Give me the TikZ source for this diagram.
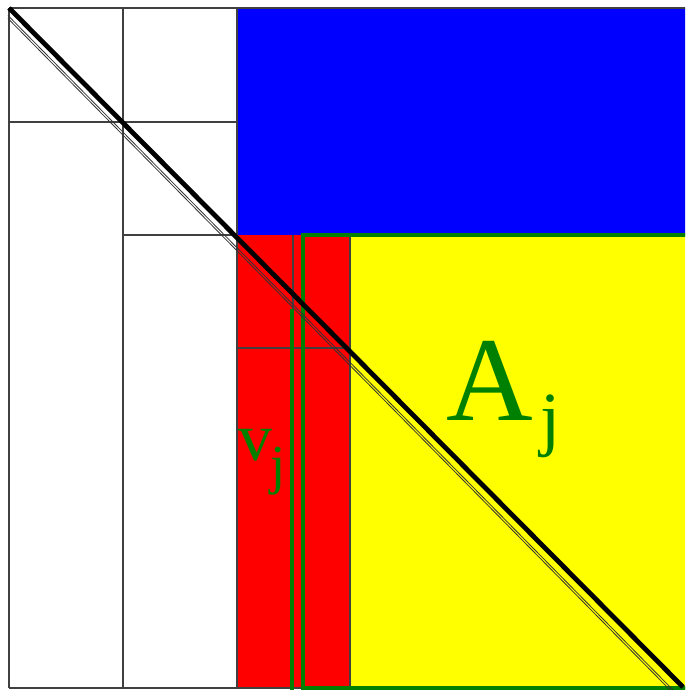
\documentclass[tikz,border=0pt]{standalone}
\usepackage{fontspec}
\setmainfont{Liberation Serif}
\definecolor{gr}{RGB}{0,128,0}
\definecolor{yel}{RGB}{255,255,0}
\definecolor{blu}{RGB}{0,0,255}
\definecolor{rd}{RGB}{255,0,0}
\begin{document}
\begin{tikzpicture}[x=1pt,y=-1pt,
  gridline/.style={draw=black!75,line width=1.2pt},
  greenline/.style={draw=gr,line width=4.8pt},
  lbl/.style={text=gr,inner sep=0pt,outer sep=0pt,anchor=base west}]
\useasboundingbox (0,0) rectangle (685,690);
\begin{scope}
\clip (0,0) rectangle (685,690);
% coloured blocks
\fill[blu] (237,8) rectangle (690,235);
\fill[rd] (237,235) rectangle (350,688);
\fill[yel] (350,235) rectangle (690,688);
% grid
\draw[gridline] (9,8) -- (690,8);
\draw[gridline] (9,8) -- (9,688);
\draw[gridline] (9,688) -- (690,688);
\draw[gridline] (123,8) -- (123,688);
\draw[gridline] (237,8) -- (237,688);
\draw[gridline] (350,235) -- (350,688);
\draw[gridline] (9,122) -- (237,122);
\draw[gridline] (123,235) -- (237,235);
\draw[gridline] (237,348) -- (350,348);
\draw[gridline] (293,235) -- (293,348);
% green outline and line
\draw[greenline] (303,235) rectangle (700,688);
\draw[greenline] (292,309) -- (292,690);
% diagonals
\draw[line width=4.8pt,black] (9,8) -- (683,687);
\draw[line width=0.8pt,black!80] (8,15.5) -- (673,690);
\draw[line width=0.8pt,black!80] (8,18.5) -- (670,690);
\end{scope}
% labels
\node[lbl,font=\fontsize{120}{120}\selectfont] (A) at (446,420) {A};
\node[lbl,font=\fontsize{72}{72}\selectfont] (Aj) at (540,442) {j};
\node[lbl,font=\fontsize{68}{68}\selectfont] (v) at (238,460) {v};
\node[lbl,font=\fontsize{55}{55}\selectfont] (vj) at (270,483) {j};
\end{tikzpicture}
\end{document}
